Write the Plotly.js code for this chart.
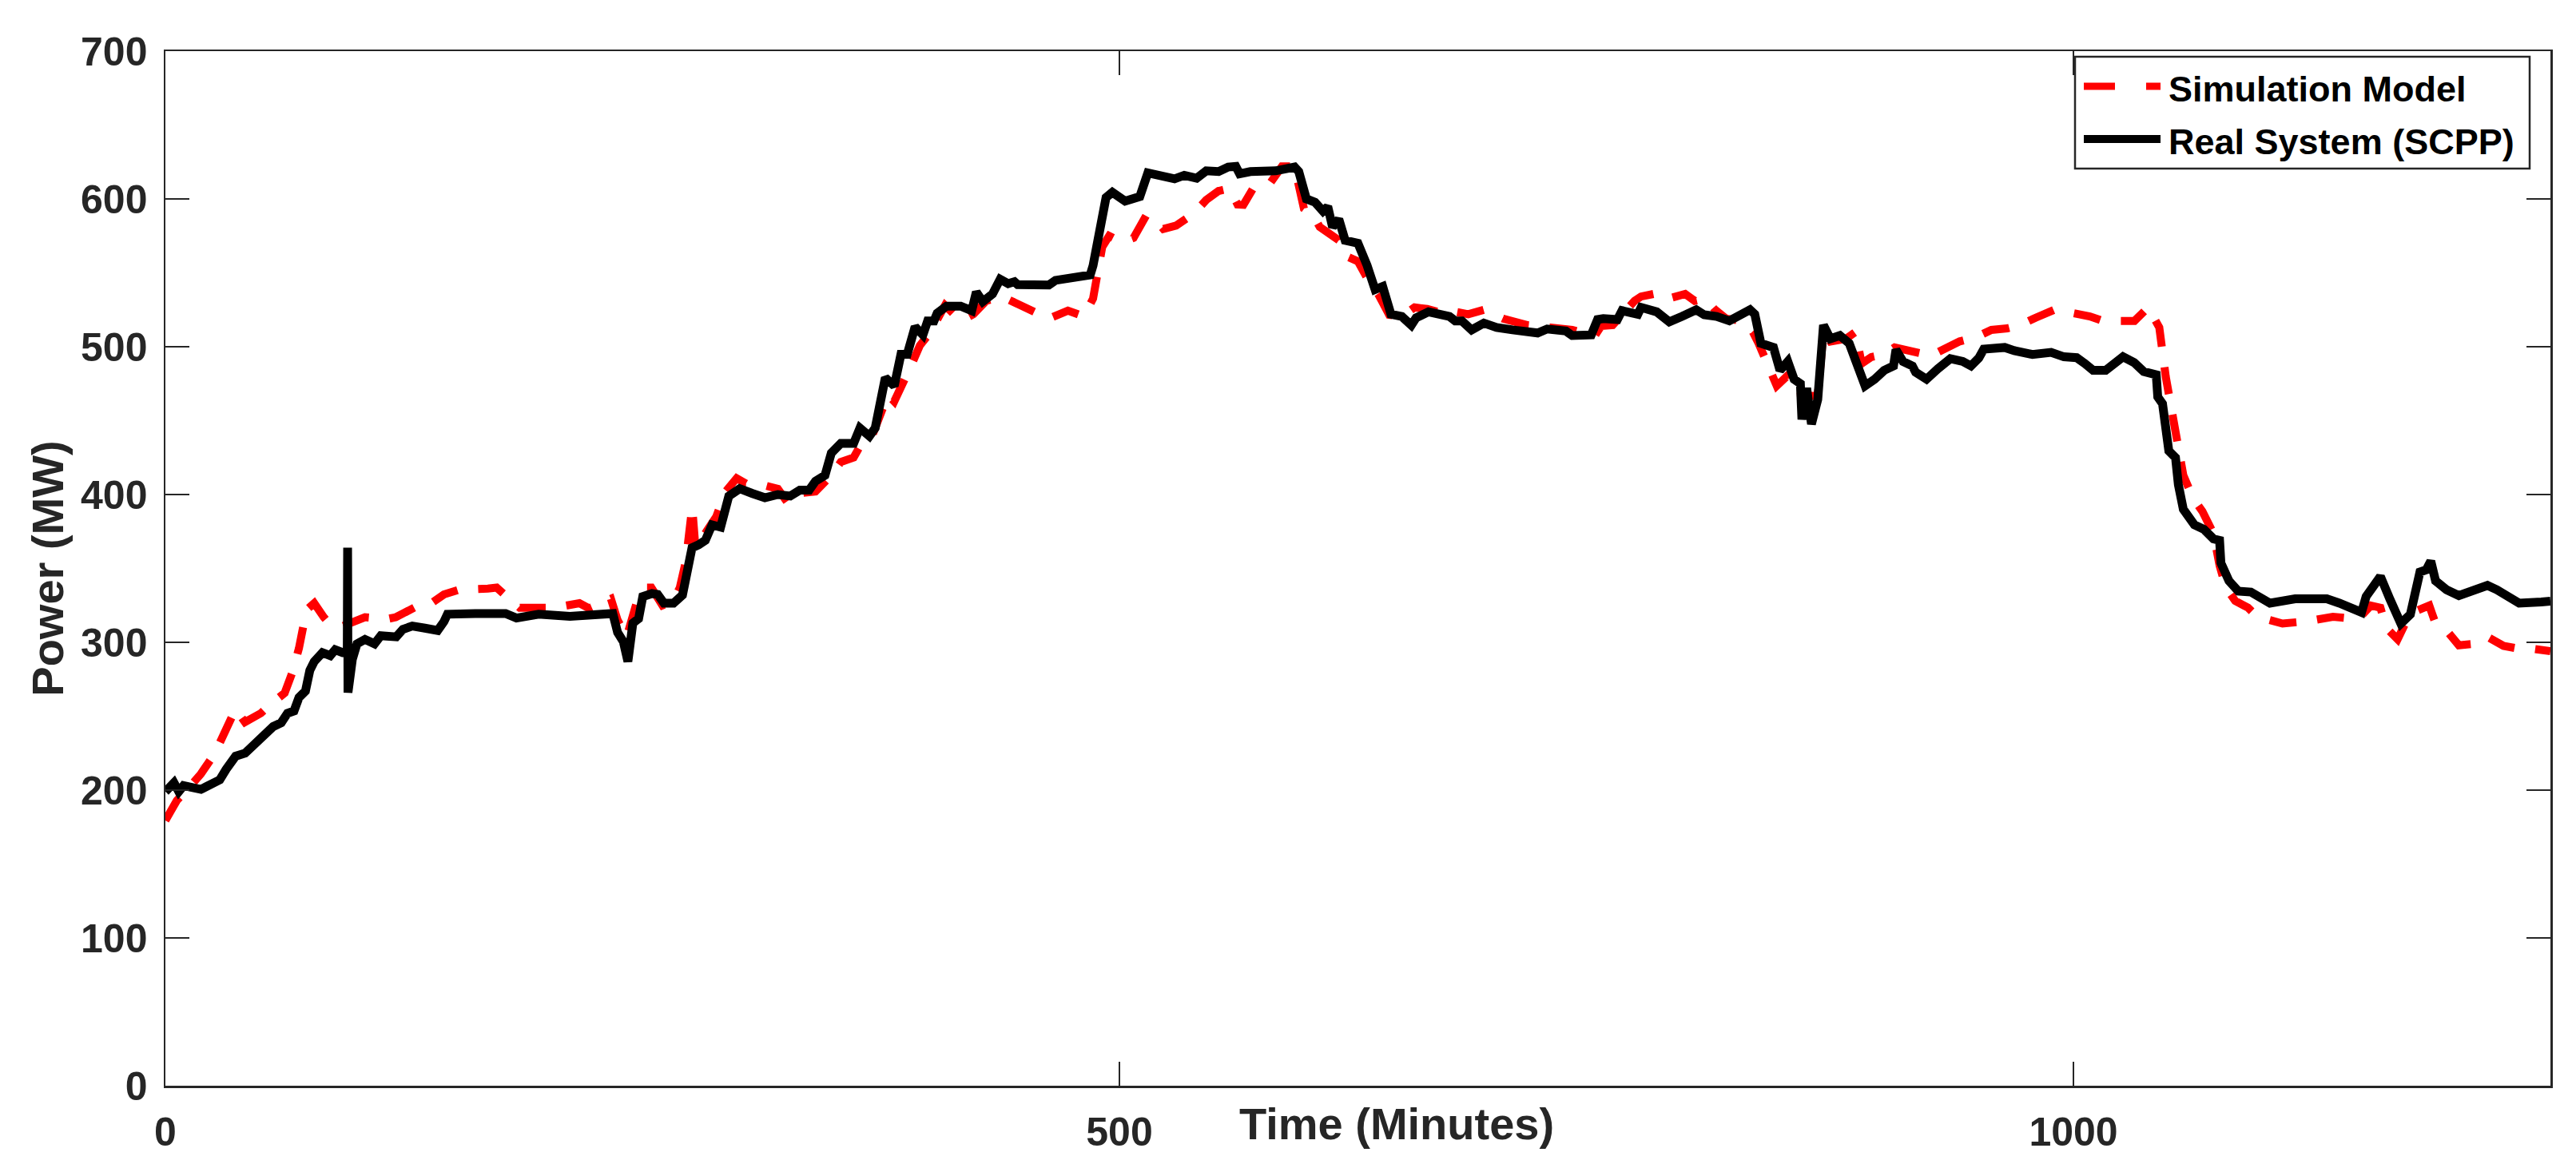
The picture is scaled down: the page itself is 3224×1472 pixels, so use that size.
<!DOCTYPE html>
<html>
<head>
<meta charset="utf-8">
<script src="https://cdn.plot.ly/plotly-3.0.1.min.js"></script>
<style>
  html, body { margin: 0; padding: 0; background: #ffffff; }
  #chart { width: 3224px; height: 1472px; }
</style>
</head>
<body>
<div id="chart"></div>
<script>
// ---- Data ----
const seriesNames = ["Simulation Model", "Real System (SCPP)"];

const timeSim = [0, 6, 13.6, 18.6, 26, 31.8, 36.8, 41.7, 50, 55, 62.5, 66.5, 70, 74, 78, 83, 87, 93, 98, 104.6, 116, 120.8, 132.7, 137.7, 146, 154, 169, 173.6, 185.7, 203.8, 217, 222, 233.5, 237, 241.8, 246.9, 251.9, 254.7, 260.5, 266.3, 269.6, 272.8, 276.1, 277.8, 281, 288.7, 293.6, 299.4, 304.3, 312.6, 321, 326, 330.8, 340.7, 349, 354, 360.7, 364, 370.5, 378.7, 382, 385.5, 391.3, 395.4, 401, 408.6, 416.8, 423.5, 430.2, 438.4, 446.7, 453, 463, 473, 481.4, 486.2, 491, 494.6, 501.3, 507.4, 514, 518, 523, 529.7, 538.9, 545.5, 552, 557.7, 561.9, 565, 570.3, 578.6, 585.2, 591.8, 596.7, 601.7, 605, 610, 615, 618.3, 625, 629.8, 635.6, 641.4, 648, 654.7, 661.3, 669.5, 674.5, 682.8, 691, 701, 714, 725.8, 737.3, 749, 752.5, 758.5, 763.4, 770, 773.4, 780, 785.8, 796.5, 801.5, 807, 812.2, 818, 826.4, 832, 835, 839.5, 844.5, 849.4, 854.4, 866, 869, 872.6, 880.8, 885.8, 889, 894.1, 900.8, 906.3, 914, 918.9, 925.5, 932.2, 940.4, 948.7, 957, 965.3, 971.9, 980.2, 990, 996.7, 1005, 1008.6, 1015.3, 1026.9, 1032, 1039.2, 1045, 1048.4, 1051.7, 1054.2, 1057.6, 1062.6, 1067.6, 1073.4, 1076.6, 1079.9, 1084.8, 1091.5, 1096.4, 1109.6, 1122.8, 1136, 1149.3, 1155.9, 1160.9, 1164, 1169.9, 1175, 1180.7, 1186.5, 1189.8, 1195.6, 1202, 1208.8, 1217, 1225.4, 1232, 1238.7, 1245.2, 1250];
const powerSim = [179.5, 193, 203.5, 211, 225, 240, 255, 246, 252, 258, 265.7, 279.5, 296, 322, 326.5, 317, 311, 311, 314, 317, 315.7, 317, 325, 325, 332.4, 335.6, 336.4, 337, 323.4, 323.4, 326.5, 323, 329.4, 315, 303.7, 326.5, 337, 337, 325, 328, 337, 355, 391.6, 364, 370, 385, 402, 411, 407.4, 406.7, 403.8, 394.6, 400.7, 402, 413, 422, 425, 432.6, 440, 467.5, 463, 472, 488.6, 500.8, 510, 528, 517.5, 522, 531, 534, 528.6, 525.7, 519, 524.4, 520.5, 532.6, 567.5, 575, 570.5, 573.6, 588.7, 587, 579.7, 582, 590, 599.3, 605.4, 607, 596.3, 596, 607.6, 610, 622, 622, 593.5, 588.7, 581, 576.6, 572, 561.6, 557.8, 546.5, 535.7, 521.6, 520.5, 526.6, 525.6, 522.7, 524, 522, 525, 519, 514.6, 513, 511.4, 507, 514, 514.6, 522, 531, 534, 535.7, 531.9, 535.7, 531, 532.6, 525, 519, 517.5, 510, 502.3, 488.6, 473.5, 479.5, 466, 467, 510, 503.5, 505.4, 510, 488.6, 493, 494.8, 499.5, 497.3, 494.8, 494, 498.4, 503.6, 506.3, 511.4, 512.4, 514.6, 519.6, 525, 523.6, 521.6, 520.5, 517.5, 517.5, 517.5, 526.6, 513, 479.6, 455.3, 431, 413, 397.8, 388.6, 373.5, 352, 337, 328, 323.4, 317.3, 312.7, 314.3, 317.3, 315.7, 324.9, 323.4, 309.7, 302, 315.8, 321.8, 324.9, 312.7, 308, 298, 298.8, 303.7, 297.6, 296, 296, 294.6, 294];

const timeReal = [0, 4.5, 7, 9.5, 18.6, 21.9, 28.5, 31.8, 36.8, 41.8, 46.7, 50, 53.3, 56.5, 60.7, 64, 67.4, 70, 73.4, 75.7, 78, 82.3, 86.4, 89, 93, 95.3, 95.5, 95.7, 98, 100.4, 104.6, 109.6, 112.9, 121, 124.5, 129.4, 136, 142.7, 146, 147.8, 162.4, 178.3, 184, 195.6, 212, 234.5, 237, 240, 242.4, 245, 248, 250.2, 255, 258, 261.3, 266.3, 271, 276, 279.5, 283, 286.5, 291, 295.3, 301, 307.7, 314.2, 321, 327.5, 332.5, 337.4, 340.7, 345.7, 349, 354, 360.7, 364, 369, 372, 377.3, 382, 385.5, 388.8, 392.9, 397, 399.5, 402.8, 404.5, 409.4, 416.8, 422.6, 425, 428.4, 433.5, 437.5, 441.7, 445, 446.7, 463, 466.5, 484.7, 486.2, 493, 496.3, 503, 510.7, 514.9, 528.9, 534, 540.5, 545.5, 552, 557, 561, 563, 568.6, 581.9, 591.8, 594, 598, 602.5, 606.7, 609.2, 611.7, 615, 618.3, 625, 629.8, 634, 638, 642.3, 648, 653, 655.5, 662, 673, 676, 679.5, 684.6, 691, 697.7, 706, 719.2, 724.2, 734, 737.3, 747.3, 750.6, 753.6, 761, 763.4, 771.7, 773.4, 781.6, 788.2, 794.9, 798.2, 802.3, 806.5, 813, 819.7, 824.7, 830.5, 833, 836.2, 842.8, 846.2, 850.3, 853.6, 856.9, 857.7, 860.2, 862.7, 866, 869, 872.6, 877.6, 882.5, 887.5, 890.8, 895.8, 900.8, 905.7, 907, 910.7, 915.6, 917.3, 923, 928.9, 935.5, 942, 946.3, 950.4, 953, 964, 969, 978.5, 988.3, 995, 1001.7, 1006, 1010.3, 1016.9, 1026, 1031.8, 1036.8, 1043.4, 1044.2, 1046.7, 1048.4, 1050, 1053.5, 1055, 1057.6, 1063.4, 1068.4, 1073.4, 1076.6, 1077.3, 1081.5, 1086.4, 1093, 1103, 1116.2, 1132.8, 1139.4, 1151, 1153.4, 1160.9, 1165.8, 1171.6, 1176.6, 1181.6, 1184.9, 1187.3, 1189.8, 1195.6, 1202, 1208.8, 1217, 1222, 1228.7, 1233.6, 1245.2, 1250];
const powerReal = [199, 205, 199, 203, 200.5, 203, 207, 214, 223, 225, 231, 234, 237.5, 243, 245.6, 252, 253.6, 262.7, 267, 281, 287, 293, 291, 295, 293, 293, 364, 266, 288.6, 299, 302, 299, 304.5, 303.7, 308.8, 311, 309.6, 308, 314, 319, 319.5, 319.5, 316.4, 319, 317.6, 319.5, 306.7, 300.5, 287, 313, 316, 331, 333, 332.4, 326.5, 326.5, 332, 364, 366, 369, 379.5, 378, 399, 404, 400.7, 397.8, 400, 399, 403, 403, 409, 413, 428, 434.6, 434.6, 445, 439.5, 445, 479, 473.5, 494.8, 494.8, 513.5, 508, 517.5, 517.5, 522.7, 527.5, 527.5, 524.4, 537, 530.5, 535.7, 545.7, 542.7, 544, 542, 541.7, 544.9, 548.6, 555, 601, 604.5, 598.5, 601.6, 617.6, 613.6, 616, 614, 619, 618.5, 621.6, 622, 617, 618.5, 619, 621.6, 618.5, 600, 597.8, 591.7, 594.8, 581, 586.3, 572, 570, 555, 538.7, 540.8, 522, 520.5, 514.6, 519.6, 523.6, 520.5, 517.5, 517.5, 511.4, 516, 513, 511.4, 509.3, 512, 510.6, 507.6, 508, 518.4, 519, 518.4, 524.4, 522, 526.6, 523.6, 516.8, 520.5, 522.7, 525, 521.6, 520.5, 517.5, 521.6, 525, 522, 502.3, 499.5, 484, 490, 478, 475, 450.8, 472, 447.7, 464.3, 514.6, 505.4, 507.6, 502.3, 487, 473.5, 478, 484, 487, 498, 490, 487, 482.7, 478, 485, 491.9, 490, 487, 492.4, 498.4, 499.5, 497.3, 494.8, 496.2, 493.2, 492.6, 488.6, 484, 484, 493.2, 489.3, 483.2, 481, 466, 461.4, 443, 429.5, 425, 406.7, 390, 379.5, 376.4, 370, 369, 353.7, 341.6, 334.6, 334, 326.5, 329.4, 329.4, 326.5, 320.3, 331, 344.6, 329.4, 312.7, 319, 347.6, 349, 355, 341.6, 335.5, 331.6, 334.6, 338.5, 335.5, 329.4, 326.5, 327.3, 327.8];

const xTickVals = [0, 500, 1000];
const xTickText = ["0", "500", "1000"];
const yTickVals = [0, 100, 200, 300, 400, 500, 600, 700];
const xTitle = "Time (Minutes)";
const yTitle = "Power (MW)";

// ---- Styling ----
const axisColor = "#262626";
const fontFamily = "Liberation Sans, Arial, sans-serif";
const simColor = "#ff0000";
const realColor = "#000000";

const traces = [
  {
    type: "scatter", mode: "lines", name: seriesNames[0],
    x: timeSim, y: powerSim,
    line: { color: simColor, width: 10, dash: "34px,26px" },
    showlegend: false, hoverinfo: "skip"
  },
  {
    type: "scatter", mode: "lines", name: seriesNames[1],
    x: timeReal, y: powerReal,
    line: { color: realColor, width: 11 },
    showlegend: false, hoverinfo: "skip"
  }
];

// plot area in pixels
const L = 207, R = 32, T = 64, B = 113;
const W = 3224, H = 1472;
const pw = W - L - R, ph = H - T - B;
const px = (X) => (X - L) / pw;          // page x -> paper x
const py = (Y) => (H - B - Y) / ph;      // page y -> paper y

// legend geometry (page pixels)
const legX0 = 2597, legX1 = 3166, legY0 = 71, legY1 = 211;
const row1 = 108, row2 = 174;
const sampleX0 = 2608, sampleX1 = 2704, textX = 2712;

const layout = {
  width: W, height: H,
  margin: { l: L, r: R, t: T, b: B, pad: 0 },
  paper_bgcolor: "#ffffff",
  plot_bgcolor: "#ffffff",
  showlegend: false,
  font: { family: fontFamily, color: axisColor },
  xaxis: {
    range: [0, 1250],
    tickmode: "array", tickvals: xTickVals, ticktext: xTickText,
    ticks: "inside", ticklen: 30, tickwidth: 1.5, tickcolor: axisColor,
    showline: true, linecolor: axisColor, linewidth: 2.5, mirror: "ticks",
    showgrid: false, zeroline: false,
    tickfont: { family: fontFamily, size: 50, color: axisColor, weight: "bold" },
    ticklabelstandoff: 12
  },
  yaxis: {
    range: [0, 700],
    tickmode: "array", tickvals: yTickVals,
    ticks: "inside", ticklen: 30, tickwidth: 1.5, tickcolor: axisColor,
    showline: true, linecolor: axisColor, linewidth: 2.5, mirror: "ticks",
    showgrid: false, zeroline: false,
    tickfont: { family: fontFamily, size: 50, color: axisColor, weight: "bold" },
    ticklabelstandoff: 10,
    title: { text: yTitle, font: { family: fontFamily, size: 56, color: axisColor, weight: "bold" }, standoff: 4 }
  },
  annotations: [
    {
      text: xTitle, xref: "paper", yref: "paper",
      x: px(1748), y: py(1406), xanchor: "center", yanchor: "middle",
      showarrow: false,
      font: { family: fontFamily, size: 56, color: axisColor, weight: "bold" }
    },
    {
      text: seriesNames[0], xref: "paper", yref: "paper",
      x: px(textX), y: py(row1 + 3), xanchor: "left", yanchor: "middle",
      showarrow: false,
      font: { family: fontFamily, size: 45, color: "#000000", weight: "bold" }
    },
    {
      text: seriesNames[1], xref: "paper", yref: "paper",
      x: px(textX), y: py(row2 + 4), xanchor: "left", yanchor: "middle",
      showarrow: false,
      font: { family: fontFamily, size: 45, color: "#000000", weight: "bold" }
    }
  ],
  shapes: [
    {
      type: "rect", xref: "paper", yref: "paper", layer: "above",
      x0: px(legX0), x1: px(legX1), y0: py(legY1), y1: py(legY0),
      line: { color: axisColor, width: 2.5 }, fillcolor: "#ffffff"
    },
    {
      type: "line", xref: "paper", yref: "paper", layer: "above",
      x0: px(sampleX0), x1: px(sampleX1), y0: py(row1), y1: py(row1),
      line: { color: simColor, width: 9, dash: "39px,39px" }
    },
    {
      type: "line", xref: "paper", yref: "paper", layer: "above",
      x0: px(sampleX0), x1: px(sampleX1), y0: py(row2), y1: py(row2),
      line: { color: realColor, width: 10 }
    }
  ]
};

Plotly.newPlot("chart", traces, layout, { staticPlot: true, displayModeBar: false });
</script>
</body>
</html>
